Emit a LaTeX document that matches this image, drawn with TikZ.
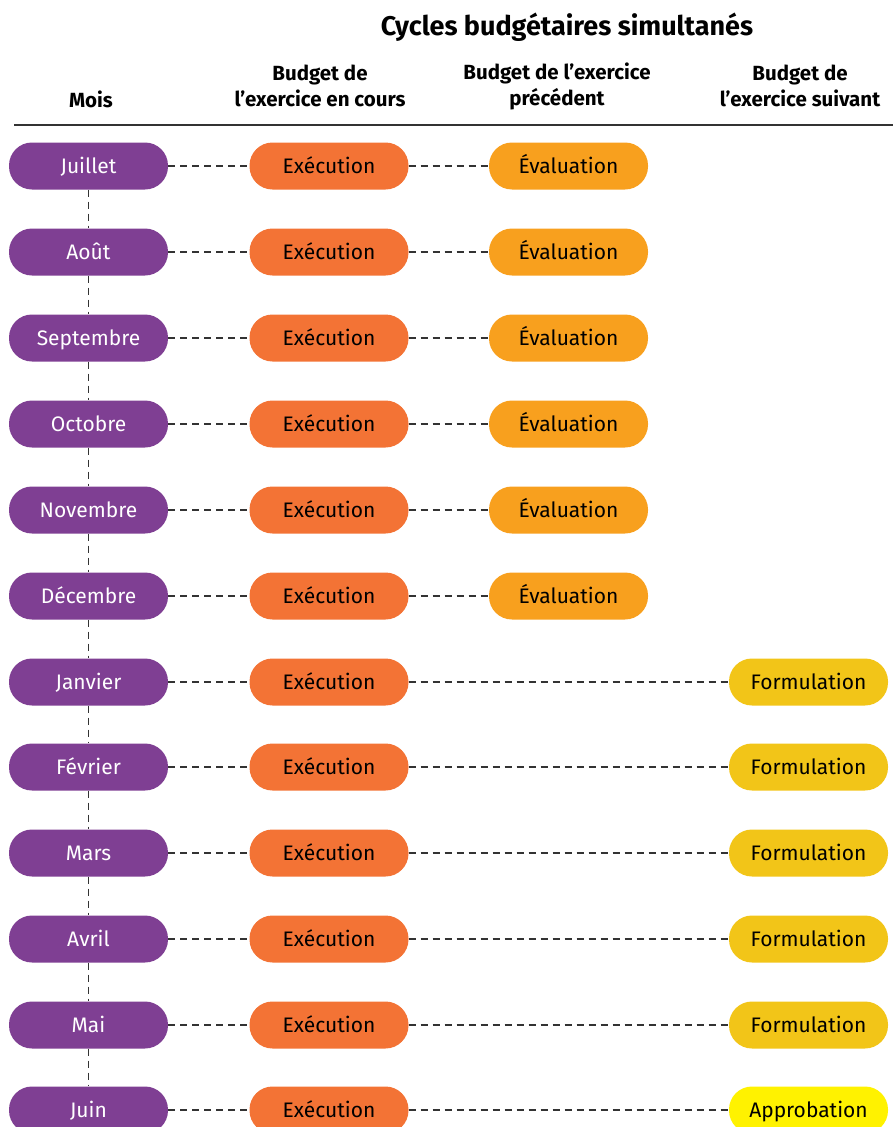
\documentclass[tikz,border=0pt]{standalone}
\usepackage{fontspec}
\setmainfont{Fira Sans}
\definecolor{cpurple}{HTML}{7F3F93}
\definecolor{corange}{HTML}{F37335}
\definecolor{ceval}{HTML}{F8A01E}
\definecolor{cform}{HTML}{F2C518}
\definecolor{cappr}{HTML}{FFF200}
\definecolor{cline}{HTML}{333333}
\begin{document}
\begin{tikzpicture}[x=1pt,y=-1pt,
  pill/.style={rectangle, rounded corners=23pt, minimum width=159pt, minimum height=47pt, inner sep=0pt, text height=17pt, text depth=2.5pt, font=\fontsize{21}{24}\selectfont},
  month/.style={pill, fill=cpurple, text=white},
  exec/.style={pill, fill=corange, text=black},
  evalb/.style={pill, fill=ceval, text=black},
  formb/.style={pill, fill=cform, text=black},
  apprb/.style={pill, fill=cappr, text=black},
  conn/.style={draw=cline, line width=1.1pt, dash pattern=on 7pt off 5pt},
  hdr/.style={font=\bfseries\fontsize{20.5}{26}\selectfont, align=center, text=black}]
\useasboundingbox (0,0) rectangle (893,1127);
\clip (0,0) rectangle (893,1127);
\node[font=\bfseries\fontsize{27}{30}\selectfont] (title) at (567,27) {Cycles budgétaires simultanés};
\node[hdr] (hmois) at (91,99) {Mois};
\node[hdr] (hcur) at (320,86) {Budget de\\l’exercice en cours};
\node[hdr] (hprev) at (557,86) {Budget de l’exercice\\précédent};
\node[hdr] (hnext) at (800,86) {Budget de\\l’exercice suivant};
\coordinate (la) at (14,125);
\coordinate (lb) at (893,125);
\draw[draw=cline, line width=1.4pt] (la) -- (lb);
\foreach \i/\m/\y in {1/Juillet/166, 2/Août/252, 3/Septembre/338, 4/Octobre/424, 5/Novembre/510, 6/Décembre/596, 7/Janvier/682, 8/Février/767, 9/Mars/853, 10/Avril/939, 11/Mai/1025, 12/Juin/1110}{
  \node[month] (m\i) at (88.5,\y) {\m};
  \node[exec] (e\i) at (329,\y) {Exécution};
  \draw[conn] (m\i.east) -- (e\i.west);
}
\foreach \i/\y in {1/166, 2/252, 3/338, 4/424, 5/510, 6/596}{
  \node[evalb] (v\i) at (568.5,\y) {Évaluation};
  \draw[conn] (e\i.east) -- (v\i.west);
}
\foreach \i/\y in {7/682, 8/767, 9/853, 10/939, 11/1025}{
  \node[formb] (f\i) at (808.5,\y) {Formulation};
  \draw[conn] (e\i.east) -- (f\i.west);
}
\node[apprb] (f12) at (808.5,1110) {Approbation};
\draw[conn] (e12.east) -- (f12.west);
\foreach \i [evaluate=\i as \j using int(\i+1)] in {1,...,11}{
  \draw[conn] (m\i.south) -- (m\j.north);
}
\end{tikzpicture}
\end{document}
